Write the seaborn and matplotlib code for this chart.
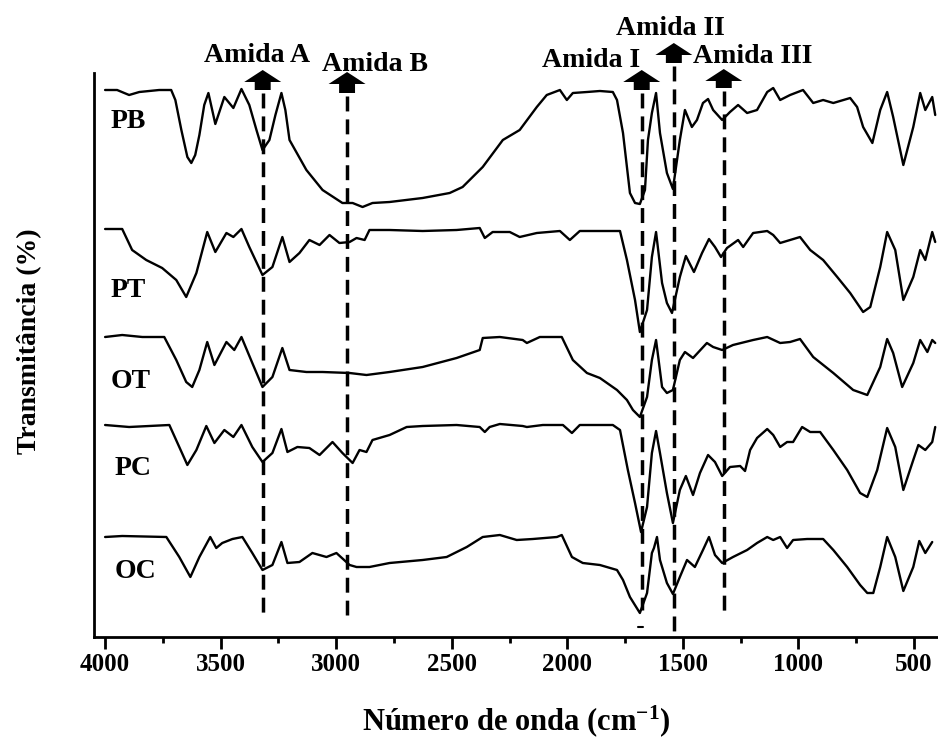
import numpy as np
import pandas as pd
import matplotlib
matplotlib.use("Agg")
import matplotlib.pyplot as plt
import seaborn as sns

# ---------------- data (wavenumber in cm-1, relative transmittance) ----------------
samples = ["PB", "PT", "OT", "PC", "OC"]

PB_wn = [4000, 3948, 3917, 3896, 3852, 3766, 3714, 3696, 3670, 3644, 3627, 3610, 3592, 3571, 3553,
         3523, 3484, 3445, 3410, 3376, 3345, 3319, 3289, 3263, 3237, 3220, 3202, 3129, 3059, 2973,
         2929, 2886, 2843, 2769, 2626, 2509, 2453, 2366, 2279, 2206, 2132, 2089, 2032, 2002, 1976,
         1915, 1859, 1803, 1785, 1759, 1729, 1707, 1686, 1664, 1651, 1634, 1616, 1599, 1569, 1543,
         1513, 1491, 1461, 1439, 1413, 1391, 1369, 1330, 1296, 1261, 1222, 1179, 1135, 1109, 1079,
         1036, 980, 936, 893, 849, 776, 746, 720, 680, 646, 616, 590, 546, 503, 473, 451, 421, 408]
PB_T = [0, 0, -3, -5, -2, 0, 0, -10, -40, -67, -73, -65, -45, -15, -3,
        -34, -7, -18, 1, -15, -40, -60, -50, -25, -3, -20, -50, -80, -100, -113,
        -113, -117, -113, -112, -108, -103, -97, -77, -50, -40, -17, -5, 0, -10, -3,
        -2, -1, -2, -10, -43, -103, -113, -114, -100, -50, -23, -3, -43, -83, -99,
        -50, -20, -37, -30, -13, -9, -20, -30, -22, -15, -23, -20, -2, 2, -10,
        -5, 0, -13, -10, -13, -8, -17, -37, -53, -20, -2, -27, -75, -37, -3, -20, -7, -25]

PT_wn = [4000, 3926, 3883, 3822, 3753, 3692, 3649, 3605, 3558, 3523, 3475, 3445, 3410, 3376, 3319,
         3276, 3233, 3202, 3159, 3116, 3072, 3029, 2986, 2942, 2912, 2877, 2856, 2769, 2626, 2479,
         2379, 2357, 2323, 2249, 2206, 2132, 2032, 1989, 1946, 1859, 1772, 1742, 1707, 1686, 1655,
         1634, 1616, 1590, 1569, 1547, 1513, 1487, 1452, 1417, 1387, 1361, 1335, 1309, 1261, 1239,
         1196, 1135, 1109, 1079, 1036, 993, 949, 893, 832, 776, 720, 689, 646, 616, 581,
         546, 503, 473, 451, 421, 408]
PT_T = [0, 0, -21, -31, -39, -51, -68, -44, -3, -23, -4, -8, 0, -18, -46,
        -38, -8, -33, -24, -11, -16, -6, -14, -13, -9, -11, -1, -1, -2, -1,
        1, -9, -3, -3, -8, -4, -2, -11, -2, -2, -2, -31, -71, -103, -81,
        -28, -3, -54, -74, -84, -48, -27, -43, -24, -10, -18, -28, -19, -11, -18,
        -4, -2, -6, -14, -11, -8, -21, -31, -48, -64, -83, -78, -38, -3, -21,
        -71, -48, -21, -31, -3, -13]

OT_wn = [4000, 3926, 3839, 3744, 3692, 3649, 3623, 3592, 3558, 3527, 3475, 3441, 3410, 3363, 3319,
         3276, 3233, 3202, 3129, 3059, 2942, 2869, 2769, 2626, 2479, 2379, 2366, 2292, 2193, 2175,
         2119, 2024, 1976, 1915, 1859, 1785, 1742, 1716, 1686, 1655, 1634, 1616, 1590, 1569, 1543,
         1513, 1491, 1456, 1396, 1369, 1330, 1283, 1196, 1135, 1079, 1036, 993, 936, 849, 763,
         702, 646, 616, 590, 551, 503, 473, 442, 421, 408]
OT_T = [0, 2, 0, 0, -23, -45, -50, -33, -5, -28, -5, -13, 0, -26, -50,
        -40, -11, -33, -35, -35, -36, -38, -35, -30, -21, -13, -1, 0, -3, -6,
        0, 0, -23, -36, -41, -53, -63, -73, -80, -60, -23, -3, -50, -56, -53,
        -23, -15, -21, -6, -10, -13, -8, -3, 0, -6, -5, -2, -20, -36, -53,
        -58, -30, -2, -16, -50, -26, -3, -15, -3, -6]

PC_wn = [4000, 3896, 3722, 3679, 3644, 3605, 3562, 3527, 3484, 3445, 3410, 3363, 3319, 3276, 3237,
         3211, 3168, 3116, 3072, 3016, 2973, 2929, 2899, 2869, 2843, 2769, 2695, 2626, 2479, 2379,
         2357, 2336, 2292, 2193, 2175, 2106, 2019, 1980, 1946, 1803, 1772, 1738, 1707, 1681, 1655,
         1634, 1616, 1599, 1569, 1543, 1513, 1487, 1456, 1426, 1391, 1361, 1330, 1296, 1252, 1231,
         1209, 1179, 1135, 1109, 1079, 1049, 1023, 984, 949, 906, 849, 789, 733, 702, 659,
         616, 581, 546, 503, 481, 451, 421, 408]
PC_T = [0, -2, 0, -22, -40, -25, -1, -18, -5, -12, 0, -22, -37, -28, -4,
        -27, -22, -23, -30, -17, -28, -38, -25, -27, -15, -10, -2, -1, 0, -2,
        -7, -2, 1, -1, -2, 0, 0, -8, 0, 0, -5, -45, -78, -107, -82,
        -28, -6, -28, -68, -98, -65, -51, -70, -48, -30, -37, -51, -42, -41, -46,
        -25, -13, -4, -10, -22, -17, -17, -2, -7, -7, -25, -45, -68, -72, -45,
        -3, -22, -65, -35, -20, -25, -17, -2]

OC_wn = [4000, 3926, 3735, 3679, 3631, 3592, 3545, 3519, 3493, 3449, 3406, 3363, 3319, 3276, 3237,
         3211, 3159, 3103, 3042, 2999, 2942, 2912, 2856, 2769, 2626, 2522, 2435, 2366, 2292, 2219,
         2149, 2045, 2024, 1980, 1933, 1859, 1785, 1759, 1729, 1686, 1655, 1634, 1625, 1612, 1599,
         1569, 1543, 1513, 1482, 1448, 1413, 1387, 1361, 1330, 1283, 1222, 1179, 1135, 1109, 1079,
         1049, 1023, 962, 893, 849, 789, 733, 702, 676, 646, 616, 581, 546, 503, 477,
         451, 421]
OC_T = [0, 1, 0, -20, -40, -20, 0, -11, -6, -2, 0, -16, -33, -28, -5,
        -26, -25, -16, -20, -16, -28, -30, -30, -26, -23, -20, -10, 0, 2, -3,
        -2, 0, 2, -20, -26, -28, -33, -43, -60, -76, -56, -16, -11, 0, -23,
        -46, -57, -40, -23, -30, -13, 0, -18, -26, -20, -13, -6, 0, -3, 0,
        -11, -3, -2, -2, -13, -30, -48, -56, -56, -30, 0, -20, -54, -30, -4,
        -16, -5]

amide_names = ["Amida A", "Amida B", "Amida I", "Amida II", "Amida III"]
amide_wn = [3318, 2953, 1678, 1539, 1323]

x_ticks = [4000, 3500, 3000, 2500, 2000, 1500, 1000, 500]

# ---------------- layout / style (not data) ----------------
stack_offset = {"PB": 654, "PT": 515, "OT": 407, "PC": 319, "OC": 207}
label_pos = {"PB": (3978, 616), "PT": (3978, 447), "OT": (3978, 356),
             "PC": (3957, 269), "OC": (3957, 166)}
# (label x, label baseline y, arrow tip y, arrow base y, dashed bottom y)
amide_layout = [
    (3342, 682, 674, 654, 131),
    (2832, 673, 672, 651, 129),
    (1897, 677, 674, 654, 134),
    (1556, 709, 701, 681, 107),
    (1197, 681, 675, 656, 132),
]

series = {"PB": (PB_wn, PB_T), "PT": (PT_wn, PT_T), "OT": (OT_wn, OT_T),
          "PC": (PC_wn, PC_T), "OC": (OC_wn, OC_T)}
frames = []
for s in samples:
    wn, t = series[s]
    frames.append(pd.DataFrame({"wn": wn, "T": np.array(t) + stack_offset[s], "sample": s}))
df = pd.concat(frames, ignore_index=True)

sns.set_style("white")
plt.rcParams["font.family"] = ["Liberation Serif", "DejaVu Serif"]
plt.rcParams["font.weight"] = "bold"
plt.rcParams["text.color"] = "black"
plt.rcParams["axes.labelcolor"] = "black"
plt.rcParams["xtick.color"] = "black"
plt.rcParams["ytick.color"] = "black"
plt.rcParams["mathtext.fontset"] = "custom"
plt.rcParams["mathtext.rm"] = "Liberation Serif:bold"
plt.rcParams["mathtext.bf"] = "Liberation Serif:bold"
plt.rcParams["mathtext.it"] = "Liberation Serif:bold:italic"
plt.rcParams["mathtext.default"] = "rm"

fig = plt.figure(figsize=(9.38, 7.44), dpi=100)
ax = fig.add_axes([94 / 938, 107 / 744, 844 / 938, 564 / 744])

sns.lineplot(data=df, x="wn", y="T", units="sample", estimator=None, sort=False,
             color="black", lw=1.7, ax=ax, legend=False)

ax.set_xlim(4048, 396)
ax.set_ylim(107, 671)

for sp in ["top", "right"]:
    ax.spines[sp].set_visible(False)
for sp in ["left", "bottom"]:
    ax.spines[sp].set_linewidth(2)
    ax.spines[sp].set_color("black")

ax.set_xticks(x_ticks)
ax.set_xticklabels([str(v) for v in x_ticks])
ax.set_xticks([v - 250 for v in x_ticks[:-1]], minor=True)
ax.tick_params(axis="x", which="major", direction="out", length=8.6, width=2,
               labelsize=18, pad=3, bottom=True, color="black", labelcolor="black")
ax.tick_params(axis="x", which="minor", direction="out", length=4.3, width=2,
               bottom=True, color="black")
ax.set_yticks([])

# sample labels
for s in samples:
    x, y = label_pos[s]
    ax.text(x, y, s, fontsize=20, fontweight="bold", ha="left", va="baseline", color="black")

# amide markers
for name, w, (lx, ly, tip, base, bot) in zip(amide_names, amide_wn, amide_layout):
    ax.plot([w, w], [base - 3, bot], color="black", lw=2.5,
            ls=(0, (4.3, 2.3)), clip_on=False, solid_capstyle="butt")
    ax.arrow(w, base, 0, tip - base, width=69, head_width=160, head_length=12,
             length_includes_head=True, fc="black", ec="black", lw=0, clip_on=False)
    ax.text(lx, ly, name, fontsize=20, fontweight="bold", ha="center", va="baseline",
            clip_on=False, color="black")

ax.plot([1692, 1672], [117, 117], color="black", lw=1.5)

ax.set_xlabel("Número de onda (cm$^{-1}$)", fontsize=22, fontweight="bold", color="black")
ax.xaxis.set_label_coords(0.5, -0.117)
ax.set_ylabel("Transmitância (%)", fontsize=20, fontweight="bold", color="black")
ax.yaxis.set_label_coords(-0.062, 0.525)

fig.savefig("out.png", dpi=100)
